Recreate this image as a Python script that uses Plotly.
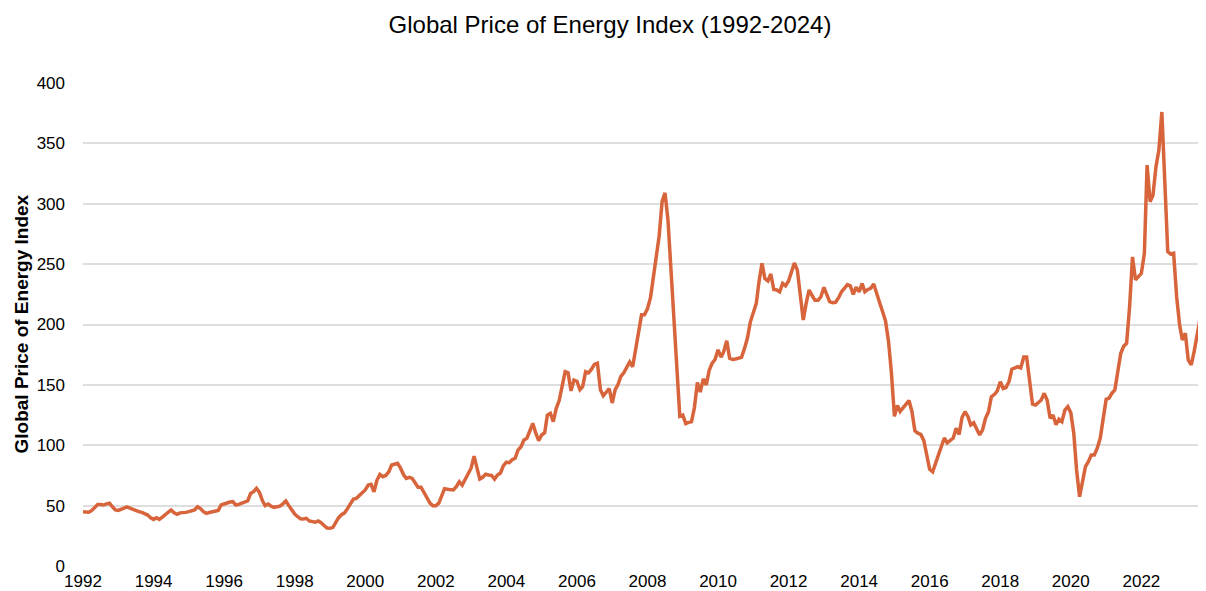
import pandas as pd
import plotly.graph_objects as go

# Monthly Global Price of Energy Index, Jan 1992 - Nov 2023
v1992 = [45, 44.5, 44.5, 46, 48, 51, 51, 50.5, 51.5, 52, 49, 46.5]
v1993 = [46, 47, 48, 49, 48, 47, 45.5, 45, 44.4, 43.6, 42.2, 40]
v1994 = [38.6, 40, 38.6, 40.5, 42.2, 44.5, 46.4, 44, 42.8, 44, 44, 44.4]
v1995 = [45, 45.5, 46.4, 49, 47.5, 45, 43.6, 44.3, 45, 45, 46, 50.5]
v1996 = [51.5, 52.5, 53, 53.3, 50.5, 51, 52, 53, 54, 60, 61.5, 64.3]
v1997 = [61, 54, 50, 51.3, 49.5, 48.6, 49, 49.5, 51.5, 53.8, 50, 46]
v1998 = [43, 40.8, 39.2, 39, 39.5, 37.3, 36.5, 36.2, 37.3, 35.9, 33.5, 31.5]
v1999 = [31.2, 32, 36, 40, 42.5, 44, 47.5, 52, 55.5, 56, 58.5, 61.5]
v2000 = [63, 67, 67.6, 61.5, 71, 75.9, 74, 75, 78, 83.6, 84, 85]
v2001 = [81, 75.5, 72.6, 73.5, 72.6, 68.5, 65.2, 65.2, 61, 56, 52, 50]
v2002 = [50, 52, 58, 64, 63.5, 63, 63, 65.7, 69.8, 67, 72, 77]
v2003 = [81, 91, 81, 72, 73.5, 76, 75.4, 75, 72, 75.4, 77, 83]
v2004 = [86, 85.6, 88, 89.2, 96, 98.8, 104.3, 105.8, 112, 118.2, 110, 103.8]
v2005 = [108.5, 110.4, 125, 126.5, 119.5, 130.6, 137, 150, 161, 160, 145, 154]
v2006 = [153, 146, 148.5, 161, 160, 163, 167, 168, 146, 141, 144, 147]
v2007 = [135, 146, 150, 157, 160, 164, 169, 165, 179, 191, 208, 208]
v2008 = [213, 222, 237, 253, 273, 302, 309, 286, 246, 205, 165, 124]
v2009 = [125, 118, 119, 119.5, 131, 152, 144, 155, 150, 162, 168, 171]
v2010 = [179, 173, 177.5, 186.6, 172, 171, 171.4, 172, 172.8, 180, 188.6, 202]
v2011 = [210.6, 217.5, 235.5, 250.7, 238, 236, 241.8, 229, 228.6, 227, 234, 232]
v2012 = [236, 243.7, 251, 245, 227, 203.7, 217.5, 228.6, 224, 220, 220, 223]
v2013 = [230.8, 224, 219, 218, 218.4, 222, 227, 230, 233, 232, 225, 231]
v2014 = [227, 234, 227, 229, 230, 233.5, 225, 218, 210.6, 203, 186, 160]
v2015 = [124, 133, 128, 131, 135, 137, 128, 112, 110, 109, 104, 93]
v2016 = [80, 78, 86, 92, 99, 106, 102, 104, 106, 114, 109, 123]
v2017 = [127.8, 123.7, 116.8, 118.7, 114, 108.5, 112.6, 122.3, 127.8, 140.2, 142, 145]
v2018 = [152.6, 147, 147.7, 152.6, 163, 163.7, 165, 164, 173, 173, 155, 134]
v2019 = [133.3, 135.5, 137.5, 143, 137.5, 122.3, 125, 117, 121.5, 119.5, 129.2, 132]
v2020 = [127, 110, 79.5, 57.4, 69.8, 82.2, 86.4, 92, 92, 97.5, 105.8, 121]
v2021 = [138, 139, 143, 145.8, 159.6, 176, 182, 184.4, 214.7, 256, 237, 239.6]
v2022 = [242.4, 259, 332, 301.7, 307, 330.7, 344.5, 376, 318, 260.3, 258.4, 259]
v2023 = [223, 199.6, 187.2, 192.7, 170.6, 166.5, 177.5, 192.7, 205, 203.7, 189]

values = (v1992 + v1993 + v1994 + v1995 + v1996 + v1997 + v1998 + v1999 + v2000 +
          v2001 + v2002 + v2003 + v2004 + v2005 + v2006 + v2007 + v2008 + v2009 +
          v2010 + v2011 + v2012 + v2013 + v2014 + v2015 + v2016 + v2017 + v2018 +
          v2019 + v2020 + v2021 + v2022 + v2023)
dates = pd.date_range("1992-01-01", periods=len(values), freq="MS")

tick_years = list(range(1992, 2023, 2))
tick_dates = [f"{y}-01-01" for y in tick_years]
tick_labels = [str(y) for y in tick_years]
y_ticks = [0, 50, 100, 150, 200, 250, 300, 350, 400]

FONT = "Liberation Sans Narrow, Arial Narrow, Liberation Sans, Arial, sans-serif"

# The page body has an 8px default margin; size the figure to fill the rest.
W, H = 1198, 583

fig = go.Figure()
fig.add_trace(go.Scatter(
    x=dates, y=values, mode="lines",
    line=dict(color="#D8643C", width=3.5),
    hoverinfo="x+y", showlegend=False,
))

fig.update_layout(
    width=W, height=H,
    template="none",
    paper_bgcolor="white", plot_bgcolor="white",
    margin=dict(l=75, r=0, t=75, b=25),
    font=dict(family=FONT, color="#000000", size=17),
    title=dict(text="Global Price of Energy Index (1992-2024)",
               x=(610 - 8) / W, xref="container", xanchor="center",
               y=1 - 17 / H, yref="container", yanchor="middle",
               font=dict(family=FONT, size=24, color="#000000")),
    xaxis=dict(
        type="date",
        range=[dates[0], dates[-1]],
        tickvals=tick_dates, ticktext=tick_labels,
        showgrid=False, zeroline=False, showline=False,
        ticks="", automargin=False, ticklabelstandoff=3,
        tickfont=dict(family=FONT, size=17, color="#000000"),
    ),
    yaxis=dict(
        range=[0, 400], tickvals=y_ticks,
        showgrid=True, gridcolor="#DEDEDE", gridwidth=1.5,
        zeroline=False, showline=False, ticks="", automargin=False,
        ticklabelstandoff=17,
        tickfont=dict(family=FONT, size=17, color="#000000"),
    ),
    annotations=[dict(
        text="<b>Global Price of Energy Index</b>",
        textangle=-90, xref="paper", yref="paper",
        x=(21 - 83) / 1123, y=0.5, xanchor="center", yanchor="middle",
        showarrow=False,
        font=dict(family=FONT, size=19, color="#000000"),
    )],
)

fig.write_html("out.html")
